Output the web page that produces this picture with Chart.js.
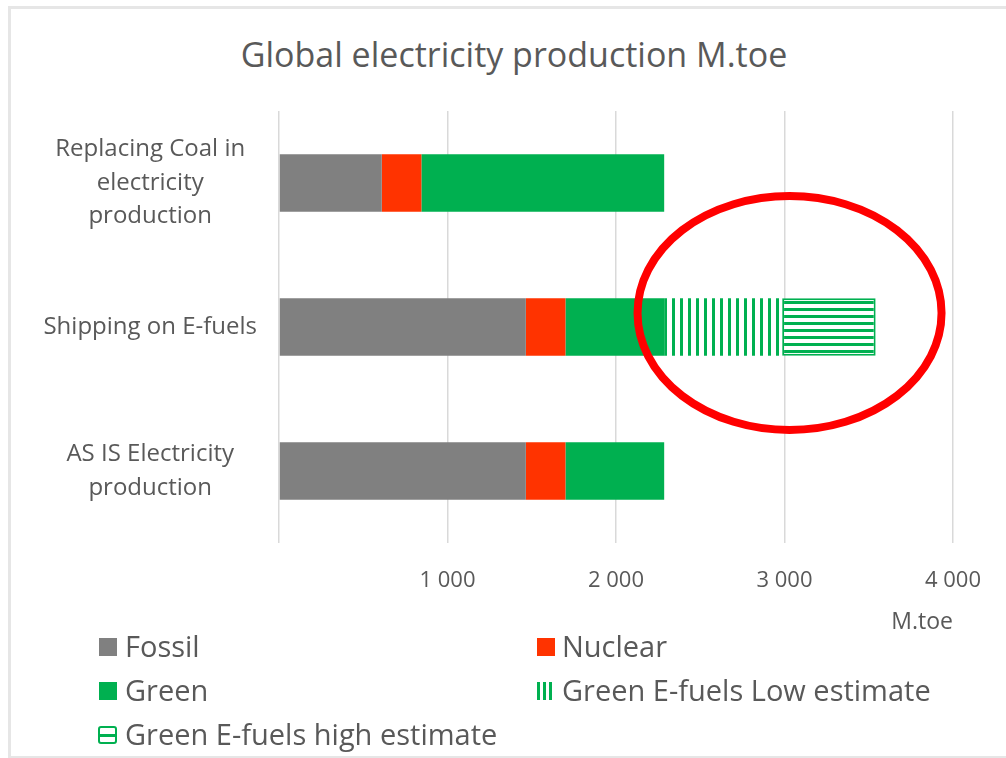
<!DOCTYPE html>
<html>
<head>
<meta charset="utf-8">
<script src="https://cdn.jsdelivr.net/npm/chart.js@4.4.1/dist/chart.umd.min.js"></script>
<style>
  body { margin: 0; background: #fff; }
  #wrap { position: relative; width: 1006px; height: 758px; overflow: hidden; font-family: "Open Sans", sans-serif; }
  #frame { position: absolute; left: 8px; top: 6px; width: 1100px; height: 747px; border: 3px solid #e6e6e6; border-right: none; }
  #title { position: absolute; left: 0; width: 1028px; top: 32px; text-align: center; font-size: 34px; line-height: 44px; color: #595959; white-space: nowrap; }
  #chartBox { position: absolute; left: 0; top: 0; width: 1006px; height: 640px; }
  .leg { position: absolute; font-size: 29px; color: #595959; line-height: 32px; white-space: nowrap; }
  .ico { position: absolute; }
</style>
</head>
<body>
<div id="wrap">
  <div id="frame"></div>
  <div id="title">Global electricity production M.toe</div>
  <div id="chartBox"><canvas id="chart"></canvas></div>
  <div id="legend"></div>
</div>
<script>
const categories = [
    ['Replacing Coal in', 'electricity', 'production'],
    'Shipping on E-fuels',
    ['AS IS Electricity', 'production']
];
const fossil = [610, 1465, 1465];
const nuclear = [235, 235, 235];
const green = [1441, 586, 586];
const efuelLow = [0, 700, 0];
const efuelHigh = [0, 555, 0];
const xTicks = [0, 1000, 2000, 3000, 4000];

const GREEN = '#00b050';

// stripe patterns for the e-fuel segments
const makePattern = (vertical) => {
    const c = document.createElement('canvas');
    c.width = vertical ? 8 : 4;
    c.height = vertical ? 4 : 7;
    const g = c.getContext('2d');
    g.fillStyle = '#fff';
    g.fillRect(0, 0, c.width, c.height);
    g.fillStyle = GREEN;
    if (vertical) g.fillRect(0, 0, 3, 4);
    else g.fillRect(0, 0, 4, 3);
    return g.createPattern(c, 'repeat');
};

const ellipse = {
    id: 'ellipse',
    afterDatasetsDraw(chart) {
        const { ctx, scales: { x, y } } = chart;
        const cx = x.getPixelForValue(3030);
        const cy = y.getPixelForValue(1) - 14;
        ctx.save();
        ctx.strokeStyle = '#ff0000';
        ctx.lineWidth = 8;
        ctx.beginPath();
        ctx.ellipse(cx, cy, 152, 117, 0, 0, Math.PI * 2);
        ctx.stroke();
        ctx.restore();
    }
};

const names = ['Fossil', 'Nuclear', 'Green', 'Green E-fuels Low estimate', 'Green E-fuels high estimate'];

new Chart(document.getElementById('chart'), {
    type: 'bar',
    data: {
        labels: categories,
        datasets: [
            { label: names[0], data: fossil, backgroundColor: '#808080' },
            { label: names[1], data: nuclear, backgroundColor: '#ff3300' },
            { label: names[2], data: green, backgroundColor: GREEN },
            { label: names[3], data: efuelLow, backgroundColor: makePattern(true) },
            { label: names[4], data: efuelHigh, backgroundColor: makePattern(false),
              borderColor: GREEN, borderWidth: 2, borderSkipped: false }
        ]
    },
    options: {
        indexAxis: 'y',
        responsive: true,
        maintainAspectRatio: false,
        animation: false,
        barPercentage: 0.4,
        categoryPercentage: 1,
        layout: { padding: { left: 6, right: 42, top: 111, bottom: 0 } },
        plugins: {
            legend: { display: false },
            tooltip: { enabled: false }
        },
        scales: {
            x: {
                stacked: true,
                min: 0,
                max: 4000,
                afterBuildTicks: (s) => { s.ticks = xTicks.map(v => ({ value: v })); },
                afterFit: (s) => { s.height = 97; },
                ticks: {
                    padding: 25,
                    color: '#595959',
                    font: { family: 'Open Sans', size: 22 },
                    callback: (v) => v === 0 ? '' : (v / 1000) + ' 000'
                },
                grid: { color: '#d9d9d9', lineWidth: 1.5, drawTicks: false },
                border: { display: false },
                title: {
                    display: true,
                    text: 'M.toe',
                    align: 'end',
                    color: '#595959',
                    font: { family: 'Open Sans', size: 23 },
                    padding: { top: 0, bottom: 4 }
                }
            },
            y: {
                stacked: true,
                afterFit: (s) => { s.width = 273; },
                ticks: {
                    padding: 14,
                    crossAlign: 'center',
                    color: '#595959',
                    font: { family: 'Open Sans', size: 24, lineHeight: 1.4 }
                },
                grid: { display: false },
                border: { display: false }
            }
        }
    },
    plugins: [ellipse]
});

// legend laid out in two columns like the original
const legendItems = [
    { name: names[0], left: 99, textLeft: 125, top: 630, kind: 'solid', color: '#808080' },
    { name: names[1], left: 537, textLeft: 562, top: 630, kind: 'solid', color: '#ff3300' },
    { name: names[2], left: 99, textLeft: 125, top: 674, kind: 'solid', color: GREEN },
    { name: names[3], left: 537, textLeft: 562, top: 674, kind: 'vert', color: GREEN },
    { name: names[4], left: 98, textLeft: 125, top: 718, kind: 'horiz', color: GREEN }
];
const legend = document.getElementById('legend');
legendItems.forEach((it) => {
    const ico = document.createElement('div');
    ico.className = 'ico';
    ico.style.left = it.left + 'px';
    ico.style.top = (it.top + 8) + 'px';
    ico.style.width = '18px';
    ico.style.height = '18px';
    if (it.kind === 'solid') {
        ico.style.background = it.color;
    } else if (it.kind === 'vert') {
        ico.style.background = `repeating-linear-gradient(90deg, ${it.color} 0 3px, #fff 3px 6px)`;
        ico.style.width = '17px';
    } else {
        ico.style.boxSizing = 'border-box';
        ico.style.border = `2px solid ${it.color}`;
        ico.style.borderRadius = '3px';
        ico.style.width = '19px';
        ico.style.background = `linear-gradient(${it.color}, ${it.color}) center / 100% 3px no-repeat #fff`;
    }
    legend.appendChild(ico);
    const t = document.createElement('div');
    t.className = 'leg';
    t.style.left = it.textLeft + 'px';
    t.style.top = it.top + 'px';
    t.textContent = it.name;
    legend.appendChild(t);
});
</script>
</body>
</html>
